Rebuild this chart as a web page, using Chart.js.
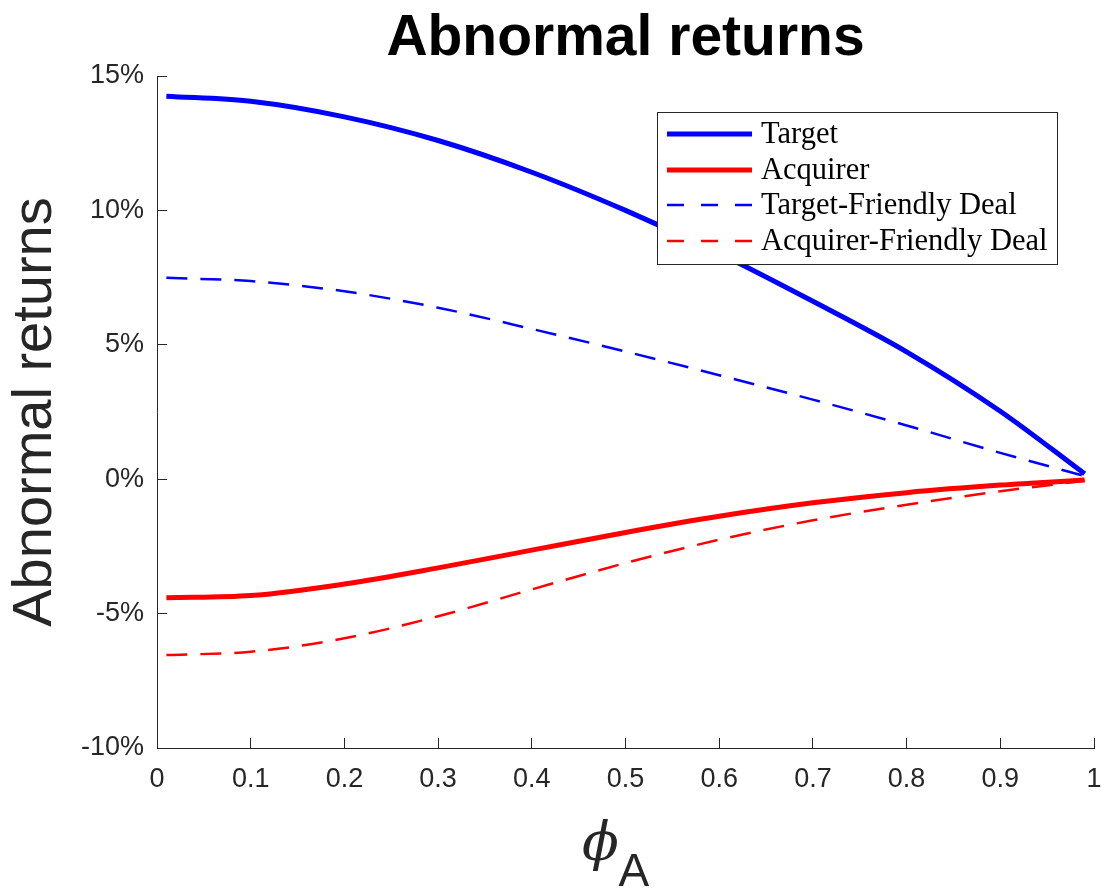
<!DOCTYPE html>
<html>
<head>
<meta charset="utf-8">
<title>Abnormal returns</title>
<script src="https://cdn.jsdelivr.net/npm/chart.js@4.4.1/dist/chart.umd.min.js"></script>
<style>
  html, body { margin: 0; padding: 0; background: #fff; }
  #wrap { width: 1101px; height: 888px; }
</style>
</head>
<body>
<div id="wrap"><canvas id="myChart" width="1101" height="888"></canvas></div>
<script>
// phi_A grid and abnormal returns (in %)
let phiA = [0.01, 0.1, 0.2, 0.3, 0.4, 0.5, 0.6, 0.7, 0.8, 0.9, 0.99];
let target = [14.25, 14.06, 13.48, 12.6, 11.42, 10.0, 8.4, 6.62, 4.74, 2.53, 0.2];
let acquirer = [-4.41, -4.33, -3.9, -3.3, -2.64, -1.98, -1.38, -0.88, -0.5, -0.22, -0.03];
let targetFriendly = [7.49, 7.37, 6.99, 6.38, 5.59, 4.75, 3.87, 2.96, 2.0, 0.98, 0.12];
let acquirerFriendly = [-6.54, -6.42, -5.92, -5.1, -4.1, -3.12, -2.25, -1.53, -0.95, -0.45, -0.06];

let xTicks = [0, 0.1, 0.2, 0.3, 0.4, 0.5, 0.6, 0.7, 0.8, 0.9, 1];
let yTicks = [-10, -5, 0, 5, 10, 15];

const axisColor = "#262626";
const sans = "'Liberation Sans', Arial, sans-serif";

function toPoints(ys) {
    return phiA.map((x, i) => ({ x: x, y: ys[i] }));
}

// boxed legend in the upper right of the plot, serif like the LaTeX labels
const legendBox = {
    id: "legendBox",
    afterDraw(chart) {
        const ctx = chart.ctx;
        const x0 = 657, y0 = 112, w = 400, h = 152;
        const rowY = [134, 170, 205, 241];
        ctx.save();
        ctx.fillStyle = "#fff";
        ctx.fillRect(x0, y0, w, h);
        ctx.strokeStyle = axisColor;
        ctx.lineWidth = 1;
        ctx.strokeRect(x0 + 0.5, y0 + 0.5, w, h);
        chart.data.datasets.forEach((ds, i) => {
            ctx.beginPath();
            ctx.strokeStyle = ds.borderColor;
            ctx.lineWidth = ds.borderWidth;
            ctx.setLineDash(ds.borderDash.length ? [17, 17] : []);
            ctx.moveTo(667, rowY[i]);
            ctx.lineTo(752, rowY[i]);
            ctx.stroke();
            ctx.setLineDash([]);
            ctx.fillStyle = "#000";
            ctx.font = "30.5px 'Liberation Serif', 'Times New Roman', serif";
            ctx.textBaseline = "middle";
            ctx.textAlign = "left";
            ctx.fillText(ds.label, 761, rowY[i] + 1);
        });
        ctx.restore();
    }
};

// x axis label: italic phi with a subscript A
const phiLabel = {
    id: "phiLabel",
    afterDraw(chart) {
        const ctx = chart.ctx;
        const cx = (chart.chartArea.left + chart.chartArea.right) / 2;
        ctx.save();
        ctx.fillStyle = axisColor;
        ctx.textBaseline = "alphabetic";
        ctx.textAlign = "center";
        ctx.font = "italic 54px 'DejaVu Serif', serif";
        ctx.fillText("\u03D5", cx - 25, 860);
        ctx.textAlign = "left";
        ctx.font = "46px " + sans;
        ctx.fillText("A", cx - 7, 886);
        ctx.restore();
    }
};

var data = {
    datasets: [
        {
            label: "Target",
            data: toPoints(target),
            borderColor: "#0000ff",
            borderWidth: 5,
            borderDash: []
        },
        {
            label: "Acquirer",
            data: toPoints(acquirer),
            borderColor: "#ff0000",
            borderWidth: 5,
            borderDash: []
        },
        {
            label: "Target-Friendly Deal",
            data: toPoints(targetFriendly),
            borderColor: "#0000ff",
            borderWidth: 2.5,
            borderDash: [21, 13]
        },
        {
            label: "Acquirer-Friendly Deal",
            data: toPoints(acquirerFriendly),
            borderColor: "#ff0000",
            borderWidth: 2.5,
            borderDash: [21, 13]
        }
    ]
};

const config = {
    type: "line",
    data: data,
    plugins: [legendBox, phiLabel],
    options: {
        responsive: false,
        animation: false,
        devicePixelRatio: 1,
        layout: { padding: { top: 0, right: 7, bottom: 0, left: 0 } },
        elements: {
            point: { radius: 0 },
            line: { cubicInterpolationMode: "monotone", fill: false, borderCapStyle: "butt" }
        },
        plugins: {
            legend: { display: false },
            tooltip: { enabled: false },
            title: {
                display: true,
                text: "Abnormal returns",
                color: "#000",
                fullSize: false,
                font: { family: sans, size: 57, weight: "bold", lineHeight: 1 },
                padding: { top: 11, bottom: 8 }
            }
        },
        scales: {
            x: {
                type: "linear",
                min: 0,
                max: 1,
                afterBuildTicks: (scale) => { scale.ticks = xTicks.map(v => ({ value: v })); },
                afterFit: (scale) => {
                    scale.height = 140;
                    scale.paddingLeft = 0;
                    scale.paddingRight = 0;
                },
                ticks: {
                    color: axisColor,
                    padding: 25,
                    maxRotation: 0,
                    autoSkip: false,
                    font: { family: sans, size: 27 },
                    callback: (v) => String(v)
                },
                grid: { drawOnChartArea: false, tickLength: -10, color: axisColor, lineWidth: 1 },
                border: { display: true, color: axisColor, width: 1 }
            },
            y: {
                type: "linear",
                min: -10,
                max: 15,
                afterBuildTicks: (scale) => { scale.ticks = yTicks.map(v => ({ value: v })); },
                afterFit: (scale) => { scale.width = 157; },
                ticks: {
                    color: axisColor,
                    padding: 23,
                    autoSkip: false,
                    font: { family: sans, size: 27 },
                    callback: (v) => v + "%"
                },
                grid: { drawOnChartArea: false, tickLength: -10, color: axisColor, lineWidth: 1 },
                border: { display: true, color: axisColor, width: 1 },
                title: {
                    display: true,
                    text: "Abnormal returns",
                    color: axisColor,
                    font: { family: sans, size: 56 },
                    padding: { top: 2, bottom: 0 }
                }
            }
        }
    }
};

var myChart = new Chart(document.getElementById("myChart"), config);
</script>
</body>
</html>
